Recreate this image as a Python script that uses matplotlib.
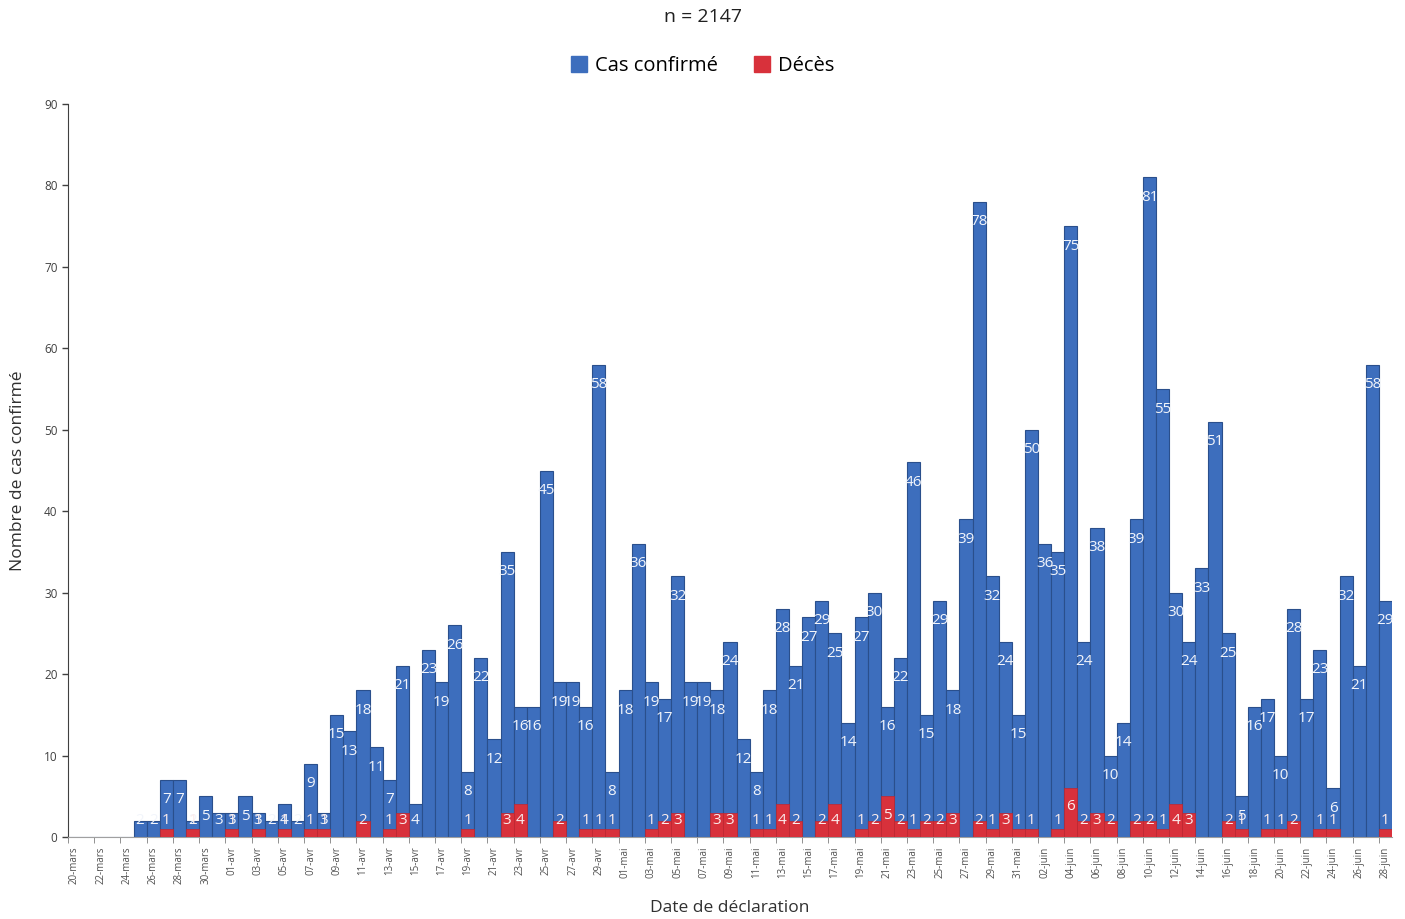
import matplotlib
matplotlib.use("Agg")
import matplotlib.pyplot as plt
import matplotlib.patches as mpatches
import numpy as np
import pandas as pd

plt.rcParams['font.family'] = ['Open Sans', 'DejaVu Sans']

# categories: one per day, 20 mars -> 28 juin
mois = {3: 'mars', 4: 'avr', 5: 'mai', 6: 'juin'}
dates = pd.date_range('2020-03-20', '2020-06-28')
categories = [f"{d.day:02d}-{mois[d.month]}" for d in dates]

cas_mars = [0, 0, 0, 0, 0, 2, 2, 7, 7, 2, 5, 3]
cas_avr = [3, 5, 3, 2, 4, 2, 9, 3, 15, 13, 18, 11, 7, 21, 4, 23, 19, 26, 8, 22,
           12, 35, 16, 16, 45, 19, 19, 16, 58, 8]
cas_mai = [18, 36, 19, 17, 32, 19, 19, 18, 24, 12, 8, 18, 28, 21, 27, 29, 25, 14,
           27, 30, 16, 22, 46, 15, 29, 18, 39, 78, 32, 24, 15]
cas_juin = [50, 36, 35, 75, 24, 38, 10, 14, 39, 81, 55, 30, 24, 33, 51, 25, 5, 16,
            17, 10, 28, 17, 23, 6, 32, 21, 58, 29]

deces_mars = [0, 0, 0, 0, 0, 0, 0, 1, 0, 1, 0, 0]
deces_avr = [1, 0, 1, 0, 1, 0, 1, 1, 0, 0, 2, 0, 1, 3, 0, 0, 0, 0, 1, 0,
             0, 3, 4, 0, 0, 2, 0, 1, 1, 1]
deces_mai = [0, 0, 1, 2, 3, 0, 0, 3, 3, 0, 1, 1, 4, 2, 0, 2, 4, 0, 1, 2, 5, 2,
             1, 2, 2, 3, 0, 2, 1, 3, 1]
deces_juin = [1, 0, 1, 6, 2, 3, 2, 0, 2, 2, 1, 4, 3, 0, 0, 2, 1, 0, 1, 1, 2, 0,
              1, 1, 0, 0, 0, 1]

cas = cas_mars + cas_avr + cas_mai + cas_juin
deces = deces_mars + deces_avr + deces_mai + deces_juin

blue = '#3D6EBD'
blue_edge = '#2A4F8C'
red = '#D8313B'
txt = '#404040'

fig = plt.figure(figsize=(14.05, 9.19), dpi=100)
ax = fig.add_axes([68 / 1405, 1 - 837 / 919, (1392 - 68) / 1405, (837 - 104) / 919])

x = np.arange(len(categories))
ax.bar(x, cas, width=1.0, color=blue, edgecolor=blue_edge, linewidth=0.8, zorder=2)
ax.bar(x, deces, width=1.0, color=red, edgecolor='#C0262F', linewidth=0.5, zorder=3)

# data labels, white, "inside end"
for i, v in enumerate(cas):
    if v > 0:
        ax.text(i, max(v - 2.45, 2.0), str(v), ha='center', va='center',
                color='#F2F5FB', fontsize=11, zorder=5)
for i, v in enumerate(deces):
    if v > 0:
        ax.text(i, max(v - 2.3, 2.0), str(v), ha='center', va='center',
                color='#FBECEC', fontsize=11, zorder=6)

ax.set_xlim(-0.5, len(categories) - 0.5)
ax.set_ylim(0, 90)
ax.set_yticks(range(0, 91, 10))
ax.tick_params(axis='y', labelsize=8.5, colors=txt, length=4, width=1)

ax.set_xticks(x[::2])
ax.set_xticklabels(categories[::2], rotation=90, fontsize=7, color='#505050')
ax.tick_params(axis='x', length=0, pad=7)
ax.set_xticks(np.arange(-0.5, len(categories), 2), minor=True)
ax.tick_params(axis='x', which='minor', length=4, color='#808080')

for s in ['top', 'right']:
    ax.spines[s].set_visible(False)
ax.spines['left'].set_color('#404040')
ax.spines['bottom'].set_color('#A0A0A0')

fig.text(0.5, 1 - 17 / 919, 'n = 2147', ha='center', va='center', fontsize=14, color='#202020')
handles = [mpatches.Patch(color=blue, label='Cas confirmé'),
           mpatches.Patch(color=red, label='Décès')]
fig.legend(handles=handles, loc='center', bbox_to_anchor=(0.5, 1 - 66 / 919), ncol=2,
           frameon=False, fontsize=14.5, handlelength=0.8, handleheight=0.8,
           handletextpad=0.4, columnspacing=1.8)

fig.text(730 / 1405, 1 - 908 / 919, 'Date de déclaration', ha='center', va='center',
         fontsize=12.5, color='#303030')
fig.text(18 / 1405, 1 - 471 / 919, 'Nombre de cas confirmé', ha='center', va='center',
         rotation=90, fontsize=12.5, color='#303030')

fig.savefig('out.png', dpi=100, facecolor='white')
